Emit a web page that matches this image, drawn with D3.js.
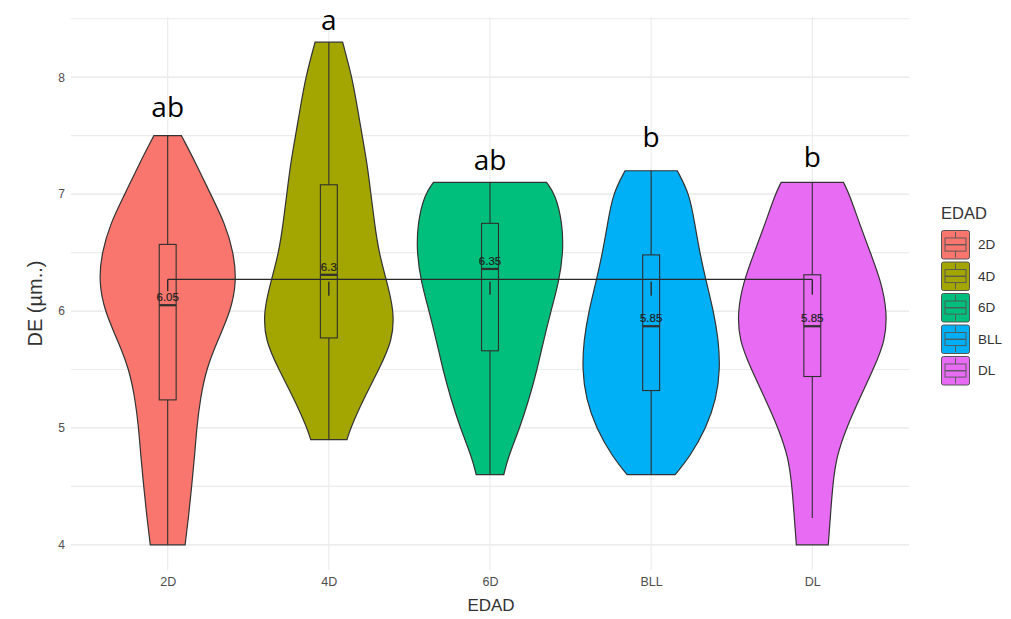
<!DOCTYPE html>
<html><head><meta charset="utf-8">
<script src="https://cdn.jsdelivr.net/npm/d3@7"></script>
<style>body{margin:0;background:#fff}svg{display:block}</style>
</head><body>
<svg id="chart" width="1011" height="619"></svg>
<script>
// ---------- data ----------
const categories = ["2D","4D","6D","BLL","DL"];
const colors = ["#F8766D","#A3A500","#00BF7D","#00B0F6","#E76BF3"];
const yTicks = [4,5,6,7,8];

// violin outlines: value levels and relative density
const v2D_y  = [7.5,7.25,7.0,6.75,6.5,6.25,6.0,5.75,5.5,5.25,5.0,4.75,4.5,4.25,4.0];
const v2D_d  = [0.19,0.40,0.59,0.79,0.91,0.95,0.87,0.69,0.53,0.45,0.40,0.37,0.33,0.29,0.24];
const v4D_y  = [8.3,8.0,7.75,7.5,7.25,7.0,6.75,6.5,6.25,6.0,5.75,5.5,5.25,5.0,4.9];
const v4D_d  = [0.19,0.32,0.39,0.46,0.53,0.58,0.63,0.69,0.80,0.90,0.88,0.69,0.48,0.30,0.25];
const v6D_y  = [7.1,7.0,6.75,6.5,6.25,6.0,5.75,5.5,5.25,5.0,4.75,4.6];
const v6D_d  = [0.78,0.90,1.0,1.01,0.95,0.84,0.74,0.65,0.54,0.41,0.25,0.19];
const vBLL_y = [7.2,7.0,6.75,6.5,6.25,6.0,5.75,5.5,5.25,5.0,4.75,4.6];
const vBLL_d = [0.36,0.53,0.60,0.67,0.76,0.86,0.93,0.95,0.90,0.76,0.53,0.33];
const vDL_y  = [7.1,7.0,6.75,6.5,6.25,6.0,5.75,5.5,5.25,5.0,4.75,4.5,4.25,4.0];
const vDL_d  = [0.43,0.51,0.65,0.80,0.95,1.03,1.01,0.84,0.65,0.47,0.33,0.28,0.25,0.22];

// boxplot statistics
const whiskerLow  = [4.0, 4.9, 4.6, 4.6, 4.23];
const q1          = [5.24, 5.77, 5.66, 5.32, 5.44];
const median      = [6.05, 6.31, 6.36, 5.87, 5.87];
const q3          = [6.57, 7.08, 6.75, 6.48, 6.31];
const whiskerHigh = [7.5, 8.3, 7.1, 7.2, 7.1];
const medianLabels = ["6.05","6.3","6.35","5.85","5.85"];

// connecting line and ticks
const meanLineY = 6.27;
const tickTop = [6.27, 6.25, 6.25, 6.25, 6.27];
const tickBottom = [6.17, 6.13, 6.14, 6.13, 6.14];

// significance letters
const letters = ["ab","a","ab","b","b"];
const letterY = [7.66, 8.40, 7.21, 7.40, 7.23];

// ---------- chart ----------
const svg = d3.select("#chart");
const panel = {left:71, right:909, top:17, bottom:570};

const x = d3.scalePoint().domain(categories).range([panel.left, panel.right]).padding(0.6);
const step = x.step();
const y = d3.scaleLinear().domain([3.785, 8.515]).range([panel.bottom, panel.top]);
const w = d3.scaleLinear().domain([0, 1]).range([0, 0.45 * step]);
const color = d3.scaleOrdinal().domain(categories).range(colors);

// gridlines
const minor = d3.range(3.5, 9, 0.5).filter(v => v >= 3.785 && v <= 8.515 && !Number.isInteger(v));
svg.append("g").selectAll("line").data(minor).join("line")
  .attr("x1", panel.left).attr("x2", panel.right)
  .attr("y1", d => y(d)).attr("y2", d => y(d))
  .attr("stroke", "#ececec").attr("stroke-width", 1.1);
svg.append("g").selectAll("line").data(yTicks).join("line")
  .attr("x1", panel.left).attr("x2", panel.right)
  .attr("y1", d => y(d)).attr("y2", d => y(d))
  .attr("stroke", "#e6e6e6").attr("stroke-width", 1.3);
svg.append("g").selectAll("line").data(categories).join("line")
  .attr("x1", d => x(d)).attr("x2", d => x(d))
  .attr("y1", panel.top).attr("y2", panel.bottom)
  .attr("stroke", "#ececec").attr("stroke-width", 1.2);

// axes
const yAxis = d3.axisLeft(y).tickValues(yTicks).tickSize(0).tickPadding(5).tickFormat(d3.format("d"));
const gy = svg.append("g").attr("transform", `translate(${panel.left - 1},0)`).call(yAxis);
gy.select(".domain").remove();
gy.selectAll("text").attr("fill", "#4d4d4d").attr("font-size", 12).attr("font-family", "Liberation Sans, Arial, sans-serif");

const xAxis = d3.axisBottom(x).tickSize(0).tickPadding(7);
const gx = svg.append("g").attr("transform", `translate(0,${panel.bottom})`).call(xAxis);
gx.select(".domain").remove();
gx.selectAll("text").attr("fill", "#4d4d4d").attr("font-size", 12.5).attr("font-family", "Liberation Sans, Arial, sans-serif");

// violins
const violinData = [
  {cat:"2D",  ys:v2D_y,  ds:v2D_d},
  {cat:"4D",  ys:v4D_y,  ds:v4D_d},
  {cat:"6D",  ys:v6D_y,  ds:v6D_d},
  {cat:"BLL", ys:vBLL_y, ds:vBLL_d},
  {cat:"DL",  ys:vDL_y,  ds:vDL_d}
];
violinData.forEach(v => {
  const cx = x(v.cat);
  const pts = v.ys.map((yy, i) => ({v: yy, d: v.ds[i]}));
  const area = d3.area()
    .y(p => y(p.v))
    .x0(p => cx - w(p.d))
    .x1(p => cx + w(p.d))
    .curve(d3.curveBasis);
  svg.append("path").attr("d", area(pts))
    .attr("fill", color(v.cat)).attr("stroke", "#333").attr("stroke-width", 1.2);
});

// boxplots
const bw = 0.105 * step;
const boxG = svg.append("g").attr("stroke", "#2f2f2f").attr("fill", "none");
categories.forEach((c, i) => {
  const cx = x(c);
  boxG.append("line").attr("x1", cx).attr("x2", cx).attr("y1", y(whiskerLow[i])).attr("y2", y(q1[i])).attr("stroke-width", 1.1);
  boxG.append("line").attr("x1", cx).attr("x2", cx).attr("y1", y(q3[i])).attr("y2", y(whiskerHigh[i])).attr("stroke-width", 1.1);
  boxG.append("rect").attr("x", cx - bw/2).attr("width", bw)
    .attr("y", y(q3[i])).attr("height", y(q1[i]) - y(q3[i])).attr("stroke-width", 1.1);
  boxG.append("line").attr("x1", cx - bw/2).attr("x2", cx + bw/2)
    .attr("y1", y(median[i])).attr("y2", y(median[i])).attr("stroke-width", 2.2);
});

// connecting line + ticks
svg.append("line").attr("x1", x(categories[0])).attr("x2", x(categories[categories.length-1]))
  .attr("y1", y(meanLineY)).attr("y2", y(meanLineY)).attr("stroke", "#2a2a2a").attr("stroke-width", 1.3);
categories.forEach((c, i) => {
  svg.append("line").attr("x1", x(c)).attr("x2", x(c))
    .attr("y1", y(tickTop[i])).attr("y2", y(tickBottom[i]))
    .attr("stroke", "#2a2a2a").attr("stroke-width", 1.4);
});

// median labels
svg.append("g").selectAll("text").data(categories).join("text")
  .attr("x", d => x(d)).attr("y", (d, i) => y(median[i]) - 4)
  .attr("text-anchor", "middle").attr("font-size", 11.5)
  .attr("font-family", "Liberation Sans, Arial, sans-serif")
  .attr("fill", "#1e1e1e").attr("stroke", "#1e1e1e").attr("stroke-width", 0.2)
  .text((d, i) => medianLabels[i]);

// letters
svg.append("g").selectAll("text").data(categories).join("text")
  .attr("x", d => x(d)).attr("y", (d, i) => y(letterY[i]))
  .attr("text-anchor", "middle").attr("font-size", 28)
  .attr("font-family", "Open Sans, sans-serif").attr("fill", "#000")
  .text((d, i) => letters[i]);

// axis titles
svg.append("text").attr("transform", `translate(42,${(panel.top + panel.bottom)/2 + 10}) rotate(-90)`)
  .attr("text-anchor", "middle").attr("font-size", 20)
  .attr("font-family", "Liberation Sans, Arial, sans-serif").attr("fill", "#333")
  .text("DE (µm..)");
svg.append("text").attr("x", (panel.left + panel.right)/2 + 1).attr("y", 611)
  .attr("text-anchor", "middle").attr("font-size", 17)
  .attr("font-family", "Liberation Sans, Arial, sans-serif").attr("fill", "#333")
  .text("EDAD");

// legend
const lg = svg.append("g").attr("transform", "translate(941,0)");
lg.append("text").attr("x", 0).attr("y", 219).attr("font-size", 16.5)
  .attr("font-family", "Liberation Sans, Arial, sans-serif").attr("fill", "#333").text("EDAD");
const kw = 28, kh = 28.5, kstep = 31.5, ky0 = 230;
categories.forEach((c, i) => {
  const ky = ky0 + i * kstep;
  const g = lg.append("g").attr("transform", `translate(0,${ky})`);
  g.append("rect").attr("x", 0.5).attr("y", 0.5).attr("width", kw).attr("height", kh)
    .attr("rx", 2).attr("fill", color(c)).attr("stroke", "#555").attr("stroke-width", 1);
  g.append("rect").attr("x", 4).attr("y", kh*0.28).attr("width", kw - 7).attr("height", kh*0.46)
    .attr("fill", "none").attr("stroke", "#555").attr("stroke-width", 0.9);
  g.append("line").attr("x1", 4).attr("x2", kw - 3).attr("y1", kh/2 + 0.5).attr("y2", kh/2 + 0.5)
    .attr("stroke", "#555").attr("stroke-width", 1.3);
  g.append("line").attr("x1", kw/2 + 0.5).attr("x2", kw/2 + 0.5).attr("y1", 2).attr("y2", kh*0.28)
    .attr("stroke", "#555").attr("stroke-width", 0.9);
  g.append("line").attr("x1", kw/2 + 0.5).attr("x2", kw/2 + 0.5).attr("y1", kh*0.74).attr("y2", kh - 1)
    .attr("stroke", "#555").attr("stroke-width", 0.9);
  lg.append("text").attr("x", 37).attr("y", ky + kh/2 + 5).attr("font-size", 13.5)
    .attr("font-family", "Liberation Sans, Arial, sans-serif").attr("fill", "#333").text(c);
});
</script>
</body></html>
